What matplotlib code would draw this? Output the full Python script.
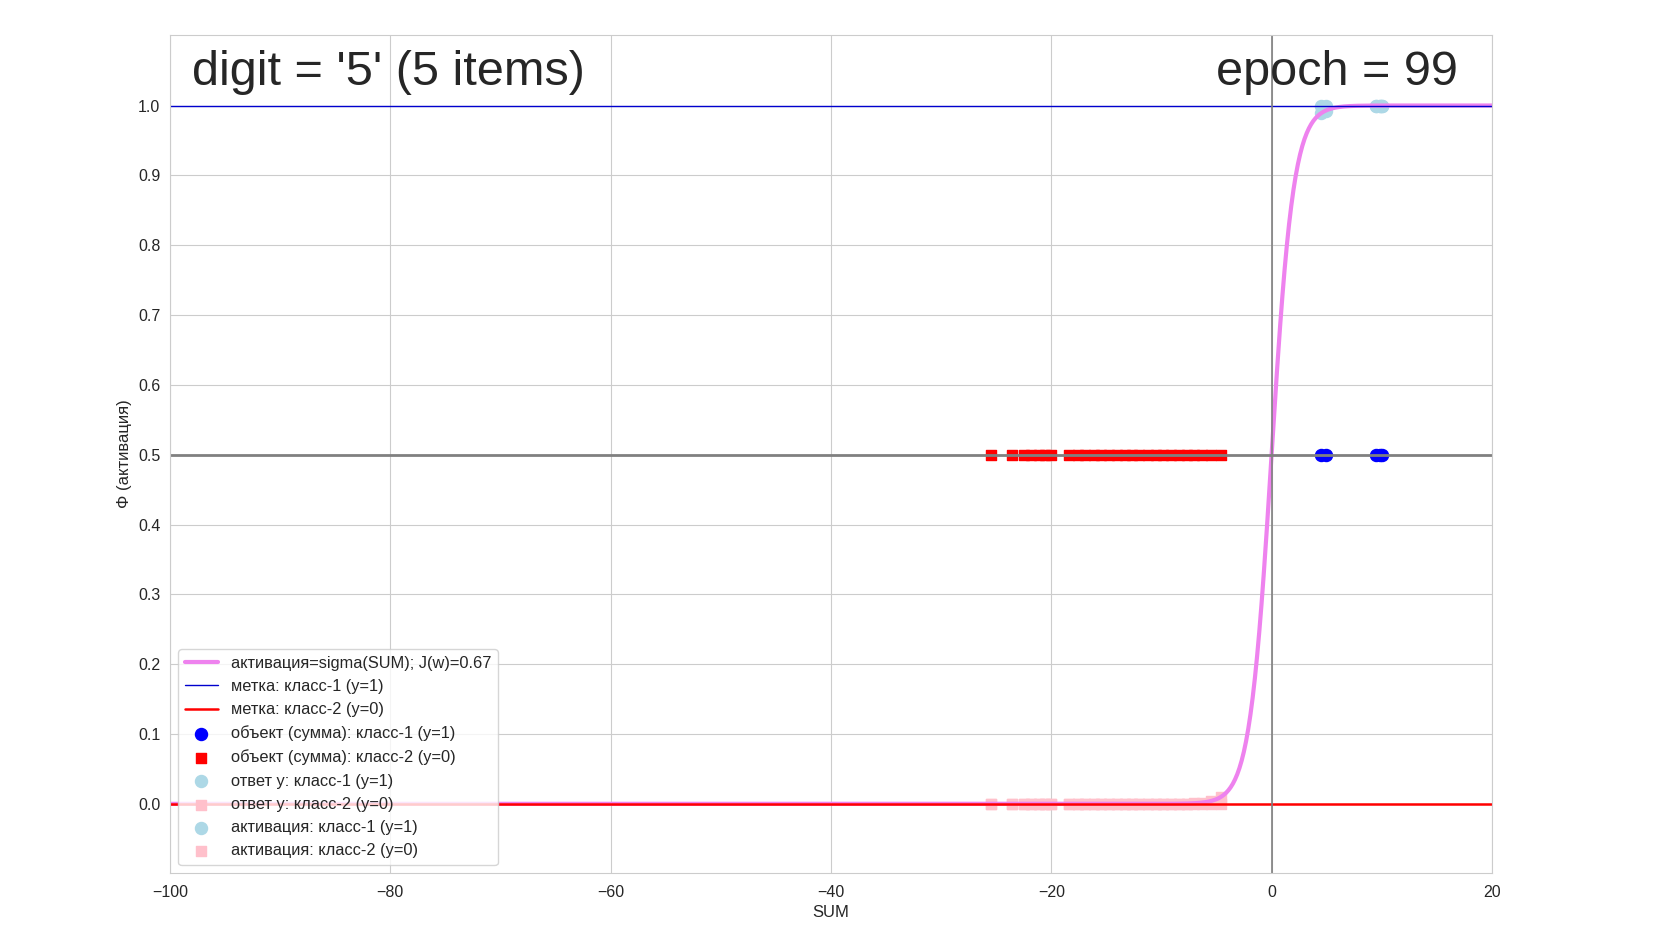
import numpy as np
import matplotlib
matplotlib.use('Agg')
import matplotlib.pyplot as plt
import seaborn as sns

# sums for the two classes
SUM_CLASS1 = [4.5, 4.9, 9.5, 9.8, 10.0]
SUM_CLASS2 = [-25.5, -23.6,
              -22.5, -21.8, -21.1, -20.6, -20.0,
              -18.4, -17.6, -16.9, -16.1, -15.5, -14.8, -14.0, -13.3,
              -12.7, -12.0, -11.2, -10.5, -9.9, -9.1, -8.4, -7.7,
              -7.0, -6.3, -5.5, -4.6]
Y_CLASS1 = [1, 1, 1, 1, 1]
Y_CLASS2 = [0] * len(SUM_CLASS2)

DIGIT = '5'
EPOCH = 99
J_W = 0.67
XTICKS = [-100, -80, -60, -40, -20, 0, 20]
YTICKS = [0.0, 0.1, 0.2, 0.3, 0.4, 0.5, 0.6, 0.7, 0.8, 0.9, 1.0]


def sigma(z):
    return 1.0 / (1.0 + np.exp(-np.asarray(z, dtype=float)))


def main():
    sns.set_style('whitegrid')
    plt.rcParams['font.family'] = ['Liberation Sans', 'DejaVu Sans']

    fig = plt.figure(figsize=(16.54, 9.3), dpi=100)
    ax = fig.add_axes([0.1028, 0.0613, 0.7992, 0.9011])

    zz = np.linspace(-100, 20, 1200)
    ax.plot(zz, sigma(zz), color='violet', lw=3,
            label='активация=sigma(SUM); J(w)=%.2f' % J_W)
    ax.axhline(1, color='mediumblue', lw=1, label='метка: класс-1 (y=1)')
    ax.axhline(0, color='red', lw=1.8, label='метка: класс-2 (y=0)')
    ax.axhline(0.5, color='gray', lw=2)
    ax.axvline(0, color='gray', lw=1.2)

    half1 = [0.5] * len(SUM_CLASS1)
    half2 = [0.5] * len(SUM_CLASS2)
    ax.scatter(SUM_CLASS1, half1, color='blue', marker='o', s=75,
               label='объект (сумма): класс-1 (y=1)')
    ax.scatter(SUM_CLASS2, half2, color='red', marker='s', s=60,
               label='объект (сумма): класс-2 (y=0)')
    ax.scatter(SUM_CLASS1, Y_CLASS1, color='lightblue', marker='o', s=75,
               label='ответ y: класс-1 (y=1)')
    ax.scatter(SUM_CLASS2, Y_CLASS2, color='pink', marker='s', s=60,
               label='ответ y: класс-2 (y=0)')
    ax.scatter(SUM_CLASS1, sigma(SUM_CLASS1), color='lightblue', marker='o',
               s=75, label='активация: класс-1 (y=1)')
    ax.scatter(SUM_CLASS2, sigma(SUM_CLASS2), color='pink', marker='s',
               s=60, label='активация: класс-2 (y=0)')

    ax.set_xlim(-100, 20)
    ax.set_ylim(-0.099, 1.101)
    ax.set_xticks(XTICKS)
    ax.set_yticks(YTICKS)
    ax.tick_params(labelsize=11.5, colors='0.15')
    ax.tick_params(axis='x', pad=5)
    ax.set_xlabel('SUM', fontsize=12, labelpad=4)
    ax.set_ylabel('Φ (активация)', fontsize=12)

    ax.text(-98, 1.047, "digit = '%s' (%d items)" % (DIGIT, len(SUM_CLASS1)),
            fontsize=35, va='center', ha='left', color='0.15')
    ax.text(16.9, 1.047, 'epoch = %d' % EPOCH,
            fontsize=35, va='center', ha='right', color='0.15')

    ax.legend(loc='lower left', fontsize=11.8, frameon=True)

    fig.savefig('out.png', dpi=100)


if __name__ == '__main__':
    main()
